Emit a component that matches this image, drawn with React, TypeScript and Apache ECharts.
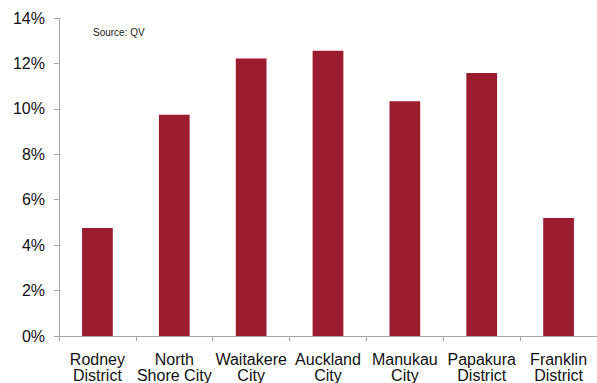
import React, { useEffect, useRef } from "react";
import * as echarts from "echarts";

const categories = [
  "Rodney\nDistrict",
  "North\nShore City",
  "Waitakere\nCity",
  "Auckland\nCity",
  "Manukau\nCity",
  "Papakura\nDistrict",
  "Franklin\nDistrict",
];
const values = [4.75, 9.74, 12.22, 12.56, 10.33, 11.58, 5.2];
const yTicks = { min: 0, max: 14, interval: 2 };
const sourceText = "Source: QV";

export default function App() {
  const ref = useRef<HTMLDivElement>(null);
  useEffect(() => {
    if (!ref.current) return;
    const chart = echarts.init(ref.current, undefined, { renderer: "svg" });
    const axisColor = "#a6a6a6";
    chart.setOption({
      animation: false,
      backgroundColor: "#ffffff",
      textStyle: { fontFamily: "Liberation Sans, Arial, sans-serif" },
      grid: { left: 59, top: 18, width: 550, height: 319, containLabel: false },
      graphic: [
        {
          type: "text",
          left: 93,
          top: 27,
          style: {
            text: sourceText,
            fontSize: 10,
            fill: "#222",
            fontFamily: "Liberation Sans, Arial, sans-serif",
          },
        },
      ],
      xAxis: {
        type: "category",
        data: categories,
        boundaryGap: true,
        axisLine: { show: true, lineStyle: { color: axisColor, width: 1 } },
        axisTick: { show: true, length: 5, lineStyle: { color: axisColor } },
        axisLabel: {
          interval: 0,
          margin: 15,
          fontSize: 16,
          lineHeight: 16,
          color: "#111",
          fontFamily: "Liberation Sans, Arial, sans-serif",
        },
      },
      yAxis: {
        type: "value",
        min: yTicks.min,
        max: yTicks.max,
        interval: yTicks.interval,
        splitLine: { show: false },
        axisLine: { show: true, lineStyle: { color: axisColor, width: 1 } },
        axisTick: { show: true, length: 5, lineStyle: { color: axisColor } },
        axisLabel: {
          formatter: "{value}%",
          margin: 14,
          fontSize: 16,
          color: "#111",
          fontFamily: "Liberation Sans, Arial, sans-serif",
        },
      },
      series: [
        {
          type: "bar",
          data: values,
          barWidth: "40%",
          itemStyle: { color: "#9B1B2F" },
        },
      ],
    });
    return () => chart.dispose();
  }, []);
  return (
    <div
      ref={ref}
      style={{ position: "fixed", left: 0, top: 0, width: 597, height: 383, background: "#fff" }}
    />
  );
}
